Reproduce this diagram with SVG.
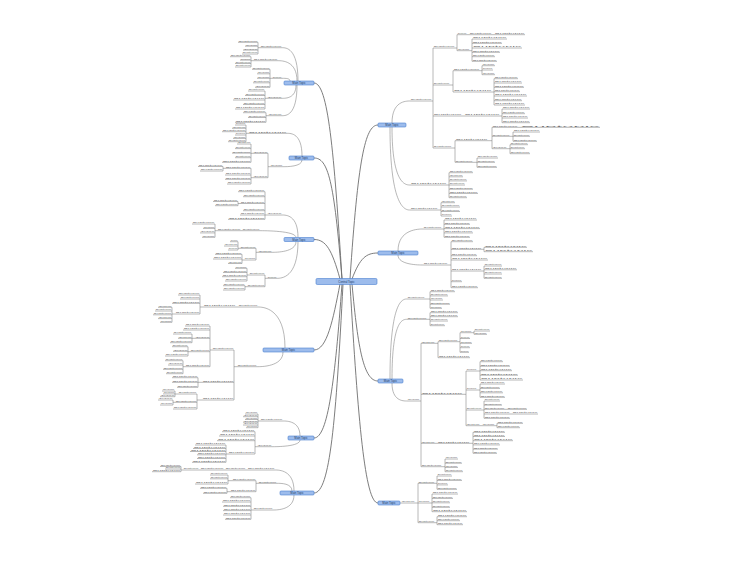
<svg xmlns="http://www.w3.org/2000/svg" width="750" height="563" viewBox="0 0 750 563">
<style>
.bg{fill:#fff}
.main{fill:none;stroke:#6e6e6e;stroke-width:.9}
.cn{fill:none;stroke:#7c7c7c;stroke-width:.55}
.nodes path{fill:none;stroke:#7c7c7c;stroke-width:.55}
.nodes text{font-family:"Liberation Sans",Arial,sans-serif;font-size:2.2px;fill:#707070}
.box rect{fill:#9dbcec;stroke:#4a7fd0;stroke-width:.6}
.box text{font-family:"Liberation Sans",Arial,sans-serif;font-size:2.8px;fill:#1b3a66;text-anchor:middle}
</style>
<rect class="bg" width="750" height="563"/>
<g id="connectors">
<path class="main" d="M350 279C358 160 365 125 378 125M352 279C360 258 366 253 378 253M352 284C358 350 364 381 378 381M350 284C358 420 365 503 378 503M342 279C334 150 328 83 314 83M342 279C334 180 328 158 314 158M340 279C332 250 326 239.5 314 239.5M340 284C333 320 327 350 314 350M342 284C335 380 328 438 314 438M343 284C336 420 330 493 314 493"/>
<path class="cn" d="M392 123C392 101 406 101 410 101M392 127C392 185 406 185 410 185M390 127C390 210 406 210 410 210M398 251C398 229 419 229 423 229M398 255C398 265 419 265 423 265M390 379C390 299 403 299 407 299M392 379C392 319.3 403 319.3 407 319.3M392 383C392 401 403 401 407 401M400 503H401"/>
<path class="cn" d="M298 81C298 47.7 286 47.7 282 47.7M297 81C297 60.7 282 60.7 278 60.7M290 81C290 78.3 286 78.3 282 78.3M296 85C296 98.3 286 98.3 282 98.3M297 85C297 115.7 286 115.7 282 115.7M302 156C302 133.3 291 133.3 287 133.3M302 160C302 166.7 287 166.7 283 166.7M298 237.5C298 215 286 215 282 215M296 237.5C296 230.7 264 230.7 260 230.7M296 241.5C296 252.3 276 252.3 272 252.3M298 241.5C298 278.3 281 278.3 277 278.3M285 348C285 307 262 307 258 307M283 352C283 366.7 261 366.7 257 366.7M300 436C300 421 287 421 283 421M300 440C300 446.7 276 446.7 272 446.7M294 491C294 470 279 470 275 470M292 491C292 483.3 281 483.3 277 483.3M294 495C294 510 277 510 273 510"/>
<path class="cn" d="M432 101H433M433 48V148M455 48H457M457 34.7V50.7M470 50.7H472M472 39V61.3M450 85H453M453 70.7V92M480 70.7H482M482 65.7V74.7M492 92H494M494 78.7V105M500 116H502M502 109V122.7M452 148H455M455 140.7V162.3M488 140.7H492M492 127.3V148.7M510 136.3H513M513 132V141.3M507 148.7H510M510 144.7V153.7M473 162.3H477M477 158V167.3M447 185H449M449 172.7V197.7M438 210H441M441 202.7V216M442 229H444M444 220V237.3M448 265H451M451 241.7V287.7M482 249.3H484M484 247.3V251.7M482 271H484M484 266V278.3M425 299H430M430 291.7V308.3M427 319.3H430M430 312.7V325.7M420 401H421M421 343.3V466.7M435 343.3H438M438 341.7V357.7M458 341.7H460M460 332.7V352.3M472 332.7H474M474 331V334.3M463 394.3H466M466 371V425.7M477 371H480M480 361.7V380M477 390H480M480 384V397.3M482 410H484M484 401V418.3M495 425.7H497M497 423.3V427.7M470 443.3H473M473 432.3V453.3M442 466.7H445M445 459V471.7M415 503H418M418 483.3V522.7M435 483.3H437M437 476V489.3M430 503H432M432 494V511.7M435 522.7H437M437 516.7V524.7"/>
<path class="cn" d="M260 47.7H258M258 42.3V54M253 60.7H251M251 56.7V67M272 78.3H270M270 69.3V87.3M267 98.3H265M265 91V109M268 115.7H266M266 112.7V122.3M248 133.3H246M246 125V141.7M270 166.7H268M268 153.3V177.7M253 153.3H251M251 144V162.3M253 177.7H251M251 168.3V184M225 168.3H223M223 166.5V171M267 215H265M265 191.7V219.3M240 203.5H238M238 201.5V205.7M217 230.7H215M215 224V237.3M258 252.3H256M256 248.3V260M240 248.3H238M238 241.7V250M244 260H242M242 254.3V263.5M267 278.3H265M265 275V286.7M249 275H247M247 268.3V281M247 286.7H245M245 285.7V290M203 307H200M200 295V314M175 314H172M172 307.3V322.3M237 366.7H234M234 350V400M212 350H210M210 326V366.7M195 338.3H192M192 334V342.7M190 351.7H188M188 346.7V356M185 366.7H183M183 360.7V373.7M202 382.3H198M198 377.7V387.3M202 400H197M197 394V409M178 394H175M175 391V396.7M175 402.3H173M173 400V405M260 421H258M258 414V427.7M257 446.7H255M255 431.7V454M228 454H226M226 445V462.3M183 470H181M181 466.5V471.7M258 483.3H256M256 480.7V491.7M232 480.7H228M228 475V484M230 491.7H227M227 488.3V493.3M253 510H251M251 497.7V519.3"/>
</g>
<g id="topics">
<g id="root" class="box"><rect x="316" y="278.5" width="61" height="6" rx="1.2"/><text x="346.5" y="282.6">Central Topic</text></g>
<g id="R1" class="box"><rect x="378" y="123" width="28" height="4" rx="1"/><text x="392" y="126">Main Topic</text></g>
<g id="R2" class="box"><rect x="378" y="251" width="40" height="4" rx="1"/><text x="398" y="254">Main Topic</text></g>
<g id="R3" class="box"><rect x="378" y="379" width="25" height="4" rx="1"/><text x="390.5" y="382">Main Topic</text></g>
<g id="R4" class="box"><rect x="378" y="501" width="22" height="4" rx="1"/><text x="389" y="504">Main Topic</text></g>
<g id="L1" class="box"><rect x="284" y="81" width="30" height="4" rx="1"/><text x="299" y="84">Main Topic</text></g>
<g id="L2" class="box"><rect x="289" y="156" width="25" height="4" rx="1"/><text x="301.5" y="159">Main Topic</text></g>
<g id="L3" class="box"><rect x="284" y="237.5" width="30" height="4" rx="1"/><text x="299" y="240.5">Main Topic</text></g>
<g id="L4" class="box"><rect x="263" y="348" width="51" height="4" rx="1"/><text x="288.5" y="351">Main Topic</text></g>
<g id="L5" class="box"><rect x="288" y="436" width="26" height="4" rx="1"/><text x="301" y="439">Main Topic</text></g>
<g id="L6" class="box"><rect x="280" y="491" width="34" height="4" rx="1"/><text x="297" y="494">Main Topic</text></g>
</g>
<g id="nodes" class="nodes">
<g id="rA"><path d="M410 101H432"/><text x="410.6" y="100.4" lengthAdjust="spacingAndGlyphs" textLength="20.8">Subtopic</text></g>
<g id="rA1"><path d="M433 48H455"/><text x="433.6" y="47.4" lengthAdjust="spacingAndGlyphs" textLength="20.8">Subtopic</text></g>
<g id="rA1a"><path d="M457 34.7H467"/><text x="457.6" y="34.1" lengthAdjust="spacingAndGlyphs" textLength="8.8">Topic</text></g>
<g id="rA1a1"><path d="M467 34.7H492"/><text x="469.6" y="34.1" lengthAdjust="spacingAndGlyphs" textLength="21.8">Subtopic</text></g>
<g id="rA1a2"><path d="M492 34.7H525"/><text x="494.6" y="34.1" lengthAdjust="spacingAndGlyphs" textLength="29.8">Subtopic</text></g>
<g id="rA1b"><path d="M457 50.7H470"/><text x="457.6" y="50.1" lengthAdjust="spacingAndGlyphs" textLength="11.8">Topic</text></g>
<g id="rA1b1"><path d="M472 39H507"/><text x="472.6" y="38.4" lengthAdjust="spacingAndGlyphs" textLength="33.8">Subtopic</text></g>
<g id="rA1b2"><path d="M472 43.3H502"/><text x="472.6" y="42.7" lengthAdjust="spacingAndGlyphs" textLength="28.8">Subtopic</text></g>
<g id="rA1b3"><path d="M472 48H522"/><text x="472.6" y="47.4" lengthAdjust="spacingAndGlyphs" textLength="48.8">Subtopic</text></g>
<g id="rA1b4"><path d="M472 52.3H500"/><text x="472.6" y="51.7" lengthAdjust="spacingAndGlyphs" textLength="26.8">Subtopic</text></g>
<g id="rA1b5"><path d="M472 56.7H495"/><text x="472.6" y="56.1" lengthAdjust="spacingAndGlyphs" textLength="21.8">Subtopic</text></g>
<g id="rA1b6"><path d="M472 61.3H497"/><text x="472.6" y="60.7" lengthAdjust="spacingAndGlyphs" textLength="23.8">Subtopic</text></g>
<g id="rA2"><path d="M433 85H450"/><text x="433.6" y="84.4" lengthAdjust="spacingAndGlyphs" textLength="15.8">Subtopic</text></g>
<g id="rA2a"><path d="M453 70.7H480"/><text x="453.6" y="70.1" lengthAdjust="spacingAndGlyphs" textLength="25.8">Subtopic</text></g>
<g id="rA2a1"><path d="M482 65.7H495"/><text x="482.6" y="65.1" lengthAdjust="spacingAndGlyphs" textLength="11.8">Topic</text></g>
<g id="rA2a2"><path d="M482 70H493"/><text x="482.6" y="69.4" lengthAdjust="spacingAndGlyphs" textLength="9.8">Topic</text></g>
<g id="rA2a3"><path d="M482 74.7H495"/><text x="482.6" y="74.1" lengthAdjust="spacingAndGlyphs" textLength="11.8">Topic</text></g>
<g id="rA2b"><path d="M453 92H492"/><text x="453.6" y="91.4" lengthAdjust="spacingAndGlyphs" textLength="37.8">Subtopic</text></g>
<g id="rA2b1"><path d="M494 78.7H518"/><text x="494.6" y="78.1" lengthAdjust="spacingAndGlyphs" textLength="22.8">Subtopic</text></g>
<g id="rA2b2"><path d="M494 83H522"/><text x="494.6" y="82.4" lengthAdjust="spacingAndGlyphs" textLength="26.8">Subtopic</text></g>
<g id="rA2b3"><path d="M494 87.3H524"/><text x="494.6" y="86.7" lengthAdjust="spacingAndGlyphs" textLength="28.8">Subtopic</text></g>
<g id="rA2b4"><path d="M494 91.7H520"/><text x="494.6" y="91.1" lengthAdjust="spacingAndGlyphs" textLength="24.8">Subtopic</text></g>
<g id="rA2b5"><path d="M494 96H527"/><text x="494.6" y="95.4" lengthAdjust="spacingAndGlyphs" textLength="31.8">Subtopic</text></g>
<g id="rA2b6"><path d="M494 100.7H522"/><text x="494.6" y="100.1" lengthAdjust="spacingAndGlyphs" textLength="26.8">Subtopic</text></g>
<g id="rA2b7"><path d="M494 105H525"/><text x="494.6" y="104.4" lengthAdjust="spacingAndGlyphs" textLength="29.8">Subtopic</text></g>
<g id="rA3"><path d="M433 116H462"/><text x="433.6" y="115.4" lengthAdjust="spacingAndGlyphs" textLength="27.8">Subtopic</text></g>
<g id="rA3a"><path d="M462 116H500"/><text x="464.6" y="115.4" lengthAdjust="spacingAndGlyphs" textLength="34.8">Subtopic</text></g>
<g id="rA3a1"><path d="M502 109H530"/><text x="502.6" y="108.4" lengthAdjust="spacingAndGlyphs" textLength="26.8">Subtopic</text></g>
<g id="rA3a2"><path d="M502 113.7H525"/><text x="502.6" y="113.1" lengthAdjust="spacingAndGlyphs" textLength="21.8">Subtopic</text></g>
<g id="rA3a3"><path d="M502 118H528"/><text x="502.6" y="117.4" lengthAdjust="spacingAndGlyphs" textLength="24.8">Subtopic</text></g>
<g id="rA3a4"><path d="M502 122.7H530"/><text x="502.6" y="122.1" lengthAdjust="spacingAndGlyphs" textLength="26.8">Subtopic</text></g>
<g id="rA4"><path d="M433 148H452"/><text x="433.6" y="147.4" lengthAdjust="spacingAndGlyphs" textLength="17.8">Subtopic</text></g>
<g id="rA4a"><path d="M455 140.7H488"/><text x="455.6" y="140.1" lengthAdjust="spacingAndGlyphs" textLength="31.8">Subtopic</text></g>
<g id="rA4a1"><path d="M492 127.3H518"/><text x="492.6" y="126.7" lengthAdjust="spacingAndGlyphs" textLength="24.8">Subtopic</text></g>
<g id="rA4a1a"><path d="M518 127.3H600"/><text x="520.6" y="126.7" lengthAdjust="spacingAndGlyphs" textLength="78.8">Subtopic</text></g>
<g id="rA4a2"><path d="M492 136.3H510"/><text x="492.6" y="135.7" lengthAdjust="spacingAndGlyphs" textLength="16.8">Subtopic</text></g>
<g id="rA4a2a"><path d="M513 132H540"/><text x="513.6" y="131.4" lengthAdjust="spacingAndGlyphs" textLength="25.8">Subtopic</text></g>
<g id="rA4a2b"><path d="M513 136.3H530"/><text x="513.6" y="135.7" lengthAdjust="spacingAndGlyphs" textLength="15.8">Subtopic</text></g>
<g id="rA4a2c"><path d="M513 141.3H537"/><text x="513.6" y="140.7" lengthAdjust="spacingAndGlyphs" textLength="22.8">Subtopic</text></g>
<g id="rA4a3"><path d="M492 148.7H507"/><text x="492.6" y="148.1" lengthAdjust="spacingAndGlyphs" textLength="13.8">Topic</text></g>
<g id="rA4a3a"><path d="M510 144.7H528"/><text x="510.6" y="144.1" lengthAdjust="spacingAndGlyphs" textLength="16.8">Subtopic</text></g>
<g id="rA4a3b"><path d="M510 148.7H525"/><text x="510.6" y="148.1" lengthAdjust="spacingAndGlyphs" textLength="13.8">Subtopic</text></g>
<g id="rA4a3c"><path d="M510 153.7H530"/><text x="510.6" y="153.1" lengthAdjust="spacingAndGlyphs" textLength="18.8">Subtopic</text></g>
<g id="rA4b"><path d="M455 162.3H473"/><text x="455.6" y="161.7" lengthAdjust="spacingAndGlyphs" textLength="16.8">Subtopic</text></g>
<g id="rA4b1"><path d="M477 158H498"/><text x="477.6" y="157.4" lengthAdjust="spacingAndGlyphs" textLength="19.8">Subtopic</text></g>
<g id="rA4b2"><path d="M477 162.3H495"/><text x="477.6" y="161.7" lengthAdjust="spacingAndGlyphs" textLength="16.8">Subtopic</text></g>
<g id="rA4b3"><path d="M477 167.3H497"/><text x="477.6" y="166.7" lengthAdjust="spacingAndGlyphs" textLength="18.8">Subtopic</text></g>
<g id="rB"><path d="M410 185H447"/><text x="410.6" y="184.4" lengthAdjust="spacingAndGlyphs" textLength="35.8">Subtopic</text></g>
<g id="rB1"><path d="M449 172.7H473"/><text x="449.6" y="172.1" lengthAdjust="spacingAndGlyphs" textLength="22.8">Subtopic</text></g>
<g id="rB2"><path d="M449 176.8H463"/><text x="449.6" y="176.2" lengthAdjust="spacingAndGlyphs" textLength="12.8">Topic</text></g>
<g id="rB3"><path d="M449 180.9H467"/><text x="449.6" y="180.3" lengthAdjust="spacingAndGlyphs" textLength="16.8">Subtopic</text></g>
<g id="rB4"><path d="M449 185H465"/><text x="449.6" y="184.4" lengthAdjust="spacingAndGlyphs" textLength="14.8">Subtopic</text></g>
<g id="rB5"><path d="M449 189.2H473"/><text x="449.6" y="188.6" lengthAdjust="spacingAndGlyphs" textLength="22.8">Subtopic</text></g>
<g id="rB6"><path d="M449 193.4H478"/><text x="449.6" y="192.8" lengthAdjust="spacingAndGlyphs" textLength="27.8">Subtopic</text></g>
<g id="rB7"><path d="M449 197.7H467"/><text x="449.6" y="197.1" lengthAdjust="spacingAndGlyphs" textLength="16.8">Subtopic</text></g>
<g id="rC"><path d="M410 210H438"/><text x="410.6" y="209.4" lengthAdjust="spacingAndGlyphs" textLength="26.8">Subtopic</text></g>
<g id="rC1"><path d="M441 202.7H455"/><text x="441.6" y="202.1" lengthAdjust="spacingAndGlyphs" textLength="12.8">Topic</text></g>
<g id="rC2"><path d="M441 207H460"/><text x="441.6" y="206.4" lengthAdjust="spacingAndGlyphs" textLength="17.8">Subtopic</text></g>
<g id="rC3"><path d="M441 211.5H460"/><text x="441.6" y="210.9" lengthAdjust="spacingAndGlyphs" textLength="17.8">Subtopic</text></g>
<g id="rC4"><path d="M441 216H452"/><text x="441.6" y="215.4" lengthAdjust="spacingAndGlyphs" textLength="9.8">Topic</text></g>
<g id="rD"><path d="M423 229H442"/><text x="423.6" y="228.4" lengthAdjust="spacingAndGlyphs" textLength="17.8">Subtopic</text></g>
<g id="rD1"><path d="M444 220H477"/><text x="444.6" y="219.4" lengthAdjust="spacingAndGlyphs" textLength="31.8">Subtopic</text></g>
<g id="rD2"><path d="M444 224.3H470"/><text x="444.6" y="223.7" lengthAdjust="spacingAndGlyphs" textLength="24.8">Subtopic</text></g>
<g id="rD3"><path d="M444 228.6H480"/><text x="444.6" y="228" lengthAdjust="spacingAndGlyphs" textLength="34.8">Subtopic</text></g>
<g id="rD4"><path d="M444 232.9H473"/><text x="444.6" y="232.3" lengthAdjust="spacingAndGlyphs" textLength="27.8">Subtopic</text></g>
<g id="rD5"><path d="M444 237.3H470"/><text x="444.6" y="236.7" lengthAdjust="spacingAndGlyphs" textLength="24.8">Subtopic</text></g>
<g id="rE"><path d="M423 265H448"/><text x="423.6" y="264.4" lengthAdjust="spacingAndGlyphs" textLength="23.8">Subtopic</text></g>
<g id="rE1"><path d="M451 241.7H473"/><text x="451.6" y="241.1" lengthAdjust="spacingAndGlyphs" textLength="20.8">Subtopic</text></g>
<g id="rE2"><path d="M451 249.3H482"/><text x="451.6" y="248.7" lengthAdjust="spacingAndGlyphs" textLength="29.8">Subtopic</text></g>
<g id="rE2a"><path d="M484 247.3H527"/><text x="484.6" y="246.7" lengthAdjust="spacingAndGlyphs" textLength="41.8">Subtopic</text></g>
<g id="rE2b"><path d="M484 251.7H533"/><text x="484.6" y="251.1" lengthAdjust="spacingAndGlyphs" textLength="47.8">Subtopic</text></g>
<g id="rE3"><path d="M451 255.7H477"/><text x="451.6" y="255.1" lengthAdjust="spacingAndGlyphs" textLength="24.8">Subtopic</text></g>
<g id="rE4"><path d="M451 260H488"/><text x="451.6" y="259.4" lengthAdjust="spacingAndGlyphs" textLength="35.8">Subtopic</text></g>
<g id="rE5"><path d="M451 271H482"/><text x="451.6" y="270.4" lengthAdjust="spacingAndGlyphs" textLength="29.8">Subtopic</text></g>
<g id="rE5a"><path d="M484 266H502"/><text x="484.6" y="265.4" lengthAdjust="spacingAndGlyphs" textLength="16.8">Subtopic</text></g>
<g id="rE5b"><path d="M484 269.8H517"/><text x="484.6" y="269.2" lengthAdjust="spacingAndGlyphs" textLength="31.8">Subtopic</text></g>
<g id="rE5c"><path d="M484 274H502"/><text x="484.6" y="273.4" lengthAdjust="spacingAndGlyphs" textLength="16.8">Subtopic</text></g>
<g id="rE5d"><path d="M484 278.3H502"/><text x="484.6" y="277.7" lengthAdjust="spacingAndGlyphs" textLength="16.8">Subtopic</text></g>
<g id="rE6"><path d="M451 281.7H462"/><text x="451.6" y="281.1" lengthAdjust="spacingAndGlyphs" textLength="9.8">Topic</text></g>
<g id="rE7"><path d="M451 287.7H478"/><text x="451.6" y="287.1" lengthAdjust="spacingAndGlyphs" textLength="25.8">Subtopic</text></g>
<g id="rF"><path d="M407 299H425"/><text x="407.6" y="298.4" lengthAdjust="spacingAndGlyphs" textLength="16.8">Subtopic</text></g>
<g id="rF1"><path d="M430 291.7H455"/><text x="430.6" y="291.1" lengthAdjust="spacingAndGlyphs" textLength="23.8">Subtopic</text></g>
<g id="rF2"><path d="M430 295.9H448"/><text x="430.6" y="295.3" lengthAdjust="spacingAndGlyphs" textLength="16.8">Subtopic</text></g>
<g id="rF3"><path d="M430 300H443"/><text x="430.6" y="299.4" lengthAdjust="spacingAndGlyphs" textLength="11.8">Topic</text></g>
<g id="rF4"><path d="M430 304.2H450"/><text x="430.6" y="303.6" lengthAdjust="spacingAndGlyphs" textLength="18.8">Subtopic</text></g>
<g id="rF5"><path d="M430 308.3H442"/><text x="430.6" y="307.7" lengthAdjust="spacingAndGlyphs" textLength="10.8">Topic</text></g>
<g id="rG"><path d="M407 319.3H427"/><text x="407.6" y="318.7" lengthAdjust="spacingAndGlyphs" textLength="18.8">Subtopic</text></g>
<g id="rG1"><path d="M430 312.7H458"/><text x="430.6" y="312.1" lengthAdjust="spacingAndGlyphs" textLength="26.8">Subtopic</text></g>
<g id="rG2"><path d="M430 316.7H458"/><text x="430.6" y="316.1" lengthAdjust="spacingAndGlyphs" textLength="26.8">Subtopic</text></g>
<g id="rG3"><path d="M430 321H448"/><text x="430.6" y="320.4" lengthAdjust="spacingAndGlyphs" textLength="16.8">Subtopic</text></g>
<g id="rG4"><path d="M430 325.7H445"/><text x="430.6" y="325.1" lengthAdjust="spacingAndGlyphs" textLength="13.8">Subtopic</text></g>
<g id="rH"><path d="M407 401H420"/><text x="407.6" y="400.4" lengthAdjust="spacingAndGlyphs" textLength="11.8">Topic</text></g>
<g id="rH1"><path d="M421 343.3H435"/><text x="421.6" y="342.7" lengthAdjust="spacingAndGlyphs" textLength="12.8">Topic</text></g>
<g id="rH1a"><path d="M438 341.7H458"/><text x="438.6" y="341.1" lengthAdjust="spacingAndGlyphs" textLength="18.8">Subtopic</text></g>
<g id="rH1a1"><path d="M460 332.7H472"/><text x="460.6" y="332.1" lengthAdjust="spacingAndGlyphs" textLength="10.8">Topic</text></g>
<g id="rH1a1a"><path d="M474 331H490"/><text x="474.6" y="330.4" lengthAdjust="spacingAndGlyphs" textLength="14.8">Subtopic</text></g>
<g id="rH1a1b"><path d="M474 334.3H487"/><text x="474.6" y="333.7" lengthAdjust="spacingAndGlyphs" textLength="11.8">Topic</text></g>
<g id="rH1a2"><path d="M460 338.5H470"/><text x="460.6" y="337.9" lengthAdjust="spacingAndGlyphs" textLength="8.8">Topic</text></g>
<g id="rH1a3"><path d="M460 343.3H472"/><text x="460.6" y="342.7" lengthAdjust="spacingAndGlyphs" textLength="10.8">Topic</text></g>
<g id="rH1a4"><path d="M460 347.7H470"/><text x="460.6" y="347.1" lengthAdjust="spacingAndGlyphs" textLength="8.8">Topic</text></g>
<g id="rH1a5"><path d="M460 352.3H469"/><text x="460.6" y="351.7" lengthAdjust="spacingAndGlyphs" textLength="7.8">Topic</text></g>
<g id="rH1b"><path d="M438 357.7H470"/><text x="438.6" y="357.1" lengthAdjust="spacingAndGlyphs" textLength="30.8">Subtopic</text></g>
<g id="rH2"><path d="M421 394.3H463"/><text x="421.6" y="393.7" lengthAdjust="spacingAndGlyphs" textLength="40.8">Subtopic</text></g>
<g id="rH2a"><path d="M466 371H477"/><text x="466.6" y="370.4" lengthAdjust="spacingAndGlyphs" textLength="9.8">Topic</text></g>
<g id="rH2a1"><path d="M480 361.7H503"/><text x="480.6" y="361.1" lengthAdjust="spacingAndGlyphs" textLength="21.8">Subtopic</text></g>
<g id="rH2a2"><path d="M480 366.2H510"/><text x="480.6" y="365.6" lengthAdjust="spacingAndGlyphs" textLength="28.8">Subtopic</text></g>
<g id="rH2a3"><path d="M480 370.7H512"/><text x="480.6" y="370.1" lengthAdjust="spacingAndGlyphs" textLength="30.8">Subtopic</text></g>
<g id="rH2a4"><path d="M480 375.2H518"/><text x="480.6" y="374.6" lengthAdjust="spacingAndGlyphs" textLength="36.8">Subtopic</text></g>
<g id="rH2a5"><path d="M480 380H523"/><text x="480.6" y="379.4" lengthAdjust="spacingAndGlyphs" textLength="41.8">Subtopic</text></g>
<g id="rH2b"><path d="M466 390H477"/><text x="466.6" y="389.4" lengthAdjust="spacingAndGlyphs" textLength="9.8">Topic</text></g>
<g id="rH2b1"><path d="M480 384H505"/><text x="480.6" y="383.4" lengthAdjust="spacingAndGlyphs" textLength="23.8">Subtopic</text></g>
<g id="rH2b2"><path d="M480 388.4H500"/><text x="480.6" y="387.8" lengthAdjust="spacingAndGlyphs" textLength="18.8">Subtopic</text></g>
<g id="rH2b3"><path d="M480 392.8H503"/><text x="480.6" y="392.2" lengthAdjust="spacingAndGlyphs" textLength="21.8">Subtopic</text></g>
<g id="rH2b4"><path d="M480 397.3H505"/><text x="480.6" y="396.7" lengthAdjust="spacingAndGlyphs" textLength="23.8">Subtopic</text></g>
<g id="rH2c"><path d="M466 410H482"/><text x="466.6" y="409.4" lengthAdjust="spacingAndGlyphs" textLength="14.8">Subtopic</text></g>
<g id="rH2c1"><path d="M484 401H500"/><text x="484.6" y="400.4" lengthAdjust="spacingAndGlyphs" textLength="14.8">Subtopic</text></g>
<g id="rH2c2"><path d="M484 405.1H502"/><text x="484.6" y="404.5" lengthAdjust="spacingAndGlyphs" textLength="16.8">Subtopic</text></g>
<g id="rH2c3"><path d="M484 409.3H505"/><text x="484.6" y="408.7" lengthAdjust="spacingAndGlyphs" textLength="19.8">Subtopic</text></g>
<g id="rH2c3a"><path d="M505 409.3H527"/><text x="507.6" y="408.7" lengthAdjust="spacingAndGlyphs" textLength="18.8">Subtopic</text></g>
<g id="rH2c4"><path d="M484 414H510"/><text x="484.6" y="413.4" lengthAdjust="spacingAndGlyphs" textLength="24.8">Subtopic</text></g>
<g id="rH2c4a"><path d="M510 414H538"/><text x="512.6" y="413.4" lengthAdjust="spacingAndGlyphs" textLength="24.8">Subtopic</text></g>
<g id="rH2c5"><path d="M484 418.3H510"/><text x="484.6" y="417.7" lengthAdjust="spacingAndGlyphs" textLength="24.8">Subtopic</text></g>
<g id="rH2d"><path d="M466 425.7H480"/><text x="466.6" y="425.1" lengthAdjust="spacingAndGlyphs" textLength="12.8">Topic</text></g>
<g id="rH2d1"><path d="M480 425.7H495"/><text x="482.6" y="425.1" lengthAdjust="spacingAndGlyphs" textLength="11.8">Topic</text></g>
<g id="rH2d1a"><path d="M497 423.3H523"/><text x="497.6" y="422.7" lengthAdjust="spacingAndGlyphs" textLength="24.8">Subtopic</text></g>
<g id="rH2d1b"><path d="M497 427.7H520"/><text x="497.6" y="427.1" lengthAdjust="spacingAndGlyphs" textLength="21.8">Subtopic</text></g>
<g id="rH3"><path d="M421 443.3H435"/><text x="421.6" y="442.7" lengthAdjust="spacingAndGlyphs" textLength="12.8">Topic</text></g>
<g id="rH3a"><path d="M435 443.3H470"/><text x="437.6" y="442.7" lengthAdjust="spacingAndGlyphs" textLength="31.8">Subtopic</text></g>
<g id="rH3a1"><path d="M473 432.3H505"/><text x="473.6" y="431.7" lengthAdjust="spacingAndGlyphs" textLength="30.8">Subtopic</text></g>
<g id="rH3a2"><path d="M473 436.5H505"/><text x="473.6" y="435.9" lengthAdjust="spacingAndGlyphs" textLength="30.8">Subtopic</text></g>
<g id="rH3a3"><path d="M473 440.7H513"/><text x="473.6" y="440.1" lengthAdjust="spacingAndGlyphs" textLength="38.8">Subtopic</text></g>
<g id="rH3a4"><path d="M473 444.9H500"/><text x="473.6" y="444.3" lengthAdjust="spacingAndGlyphs" textLength="25.8">Subtopic</text></g>
<g id="rH3a5"><path d="M473 449.1H498"/><text x="473.6" y="448.5" lengthAdjust="spacingAndGlyphs" textLength="23.8">Subtopic</text></g>
<g id="rH3a6"><path d="M473 453.3H497"/><text x="473.6" y="452.7" lengthAdjust="spacingAndGlyphs" textLength="22.8">Subtopic</text></g>
<g id="rH4"><path d="M421 466.7H442"/><text x="421.6" y="466.1" lengthAdjust="spacingAndGlyphs" textLength="19.8">Subtopic</text></g>
<g id="rH4a"><path d="M445 459H458"/><text x="445.6" y="458.4" lengthAdjust="spacingAndGlyphs" textLength="11.8">Topic</text></g>
<g id="rH4b"><path d="M445 463.2H462"/><text x="445.6" y="462.6" lengthAdjust="spacingAndGlyphs" textLength="15.8">Subtopic</text></g>
<g id="rH4c"><path d="M445 467.4H458"/><text x="445.6" y="466.8" lengthAdjust="spacingAndGlyphs" textLength="11.8">Topic</text></g>
<g id="rH4d"><path d="M445 471.7H463"/><text x="445.6" y="471.1" lengthAdjust="spacingAndGlyphs" textLength="16.8">Subtopic</text></g>
<g id="rI"><path d="M401 503H415"/><text x="401.6" y="502.4" lengthAdjust="spacingAndGlyphs" textLength="12.8">Topic</text></g>
<g id="rI1"><path d="M418 483.3H435"/><text x="418.6" y="482.7" lengthAdjust="spacingAndGlyphs" textLength="15.8">Subtopic</text></g>
<g id="rI1a"><path d="M437 476H452"/><text x="437.6" y="475.4" lengthAdjust="spacingAndGlyphs" textLength="13.8">Subtopic</text></g>
<g id="rI1b"><path d="M437 480.4H462"/><text x="437.6" y="479.8" lengthAdjust="spacingAndGlyphs" textLength="23.8">Subtopic</text></g>
<g id="rI1c"><path d="M437 484.9H448"/><text x="437.6" y="484.3" lengthAdjust="spacingAndGlyphs" textLength="9.8">Topic</text></g>
<g id="rI1d"><path d="M437 489.3H457"/><text x="437.6" y="488.7" lengthAdjust="spacingAndGlyphs" textLength="18.8">Subtopic</text></g>
<g id="rI2"><path d="M418 503H430"/><text x="418.6" y="502.4" lengthAdjust="spacingAndGlyphs" textLength="10.8">Topic</text></g>
<g id="rI2a"><path d="M432 494H458"/><text x="432.6" y="493.4" lengthAdjust="spacingAndGlyphs" textLength="24.8">Subtopic</text></g>
<g id="rI2b"><path d="M432 498.4H453"/><text x="432.6" y="497.8" lengthAdjust="spacingAndGlyphs" textLength="19.8">Subtopic</text></g>
<g id="rI2c"><path d="M432 502.8H450"/><text x="432.6" y="502.2" lengthAdjust="spacingAndGlyphs" textLength="16.8">Subtopic</text></g>
<g id="rI2d"><path d="M432 507.3H450"/><text x="432.6" y="506.7" lengthAdjust="spacingAndGlyphs" textLength="16.8">Subtopic</text></g>
<g id="rI2e"><path d="M432 511.7H467"/><text x="432.6" y="511.1" lengthAdjust="spacingAndGlyphs" textLength="33.8">Subtopic</text></g>
<g id="rI3"><path d="M418 522.7H435"/><text x="418.6" y="522.1" lengthAdjust="spacingAndGlyphs" textLength="15.8">Subtopic</text></g>
<g id="rI3a"><path d="M437 516.7H467"/><text x="437.6" y="516.1" lengthAdjust="spacingAndGlyphs" textLength="28.8">Subtopic</text></g>
<g id="rI3b"><path d="M437 520.7H460"/><text x="437.6" y="520.1" lengthAdjust="spacingAndGlyphs" textLength="21.8">Subtopic</text></g>
<g id="rI3c"><path d="M437 524.7H463"/><text x="437.6" y="524.1" lengthAdjust="spacingAndGlyphs" textLength="24.8">Subtopic</text></g>
<g id="lA"><path d="M260 47.7H282"/><text x="260.6" y="47.1" lengthAdjust="spacingAndGlyphs" textLength="20.8">Subtopic</text></g>
<g id="lA1"><path d="M238 42.3H258"/><text x="238.6" y="41.7" lengthAdjust="spacingAndGlyphs" textLength="18.8">Subtopic</text></g>
<g id="lA2"><path d="M245 46.2H258"/><text x="245.6" y="45.6" lengthAdjust="spacingAndGlyphs" textLength="11.8">Topic</text></g>
<g id="lA3"><path d="M243 50.1H258"/><text x="243.6" y="49.5" lengthAdjust="spacingAndGlyphs" textLength="13.8">Topic</text></g>
<g id="lA4"><path d="M242 54H258"/><text x="242.6" y="53.4" lengthAdjust="spacingAndGlyphs" textLength="14.8">Subtopic</text></g>
<g id="lB"><path d="M253 60.7H278"/><text x="253.6" y="60.1" lengthAdjust="spacingAndGlyphs" textLength="23.8">Subtopic</text></g>
<g id="lB1"><path d="M230 56.7H251"/><text x="230.6" y="56.1" lengthAdjust="spacingAndGlyphs" textLength="19.8">Subtopic</text></g>
<g id="lB2"><path d="M240 60.1H251"/><text x="240.6" y="59.5" lengthAdjust="spacingAndGlyphs" textLength="9.8">Topic</text></g>
<g id="lB3"><path d="M235 63.5H251"/><text x="235.6" y="62.9" lengthAdjust="spacingAndGlyphs" textLength="14.8">Subtopic</text></g>
<g id="lB4"><path d="M235 67H251"/><text x="235.6" y="66.4" lengthAdjust="spacingAndGlyphs" textLength="14.8">Subtopic</text></g>
<g id="lC"><path d="M272 78.3H282"/><text x="272.6" y="77.7" lengthAdjust="spacingAndGlyphs" textLength="8.8">Topic</text></g>
<g id="lC1"><path d="M252 69.3H270"/><text x="252.6" y="68.7" lengthAdjust="spacingAndGlyphs" textLength="16.8">Subtopic</text></g>
<g id="lC2"><path d="M257 73.8H270"/><text x="257.6" y="73.2" lengthAdjust="spacingAndGlyphs" textLength="11.8">Topic</text></g>
<g id="lC3"><path d="M257 78.3H270"/><text x="257.6" y="77.7" lengthAdjust="spacingAndGlyphs" textLength="11.8">Topic</text></g>
<g id="lC4"><path d="M253 82.8H270"/><text x="253.6" y="82.2" lengthAdjust="spacingAndGlyphs" textLength="15.8">Subtopic</text></g>
<g id="lC5"><path d="M255 87.3H270"/><text x="255.6" y="86.7" lengthAdjust="spacingAndGlyphs" textLength="13.8">Topic</text></g>
<g id="lD"><path d="M267 98.3H282"/><text x="267.6" y="97.7" lengthAdjust="spacingAndGlyphs" textLength="13.8">Topic</text></g>
<g id="lD1"><path d="M248 91H265"/><text x="248.6" y="90.4" lengthAdjust="spacingAndGlyphs" textLength="15.8">Subtopic</text></g>
<g id="lD2"><path d="M245 95.5H265"/><text x="245.6" y="94.9" lengthAdjust="spacingAndGlyphs" textLength="18.8">Subtopic</text></g>
<g id="lD3"><path d="M233 100H265"/><text x="233.6" y="99.4" lengthAdjust="spacingAndGlyphs" textLength="30.8">Subtopic</text></g>
<g id="lD4"><path d="M243 104.5H265"/><text x="243.6" y="103.9" lengthAdjust="spacingAndGlyphs" textLength="20.8">Subtopic</text></g>
<g id="lD5"><path d="M235 109H265"/><text x="235.6" y="108.4" lengthAdjust="spacingAndGlyphs" textLength="28.8">Subtopic</text></g>
<g id="lE"><path d="M268 115.7H282"/><text x="268.6" y="115.1" lengthAdjust="spacingAndGlyphs" textLength="12.8">Topic</text></g>
<g id="lE1"><path d="M243 112.7H266"/><text x="243.6" y="112.1" lengthAdjust="spacingAndGlyphs" textLength="21.8">Subtopic</text></g>
<g id="lE2"><path d="M248 117.5H266"/><text x="248.6" y="116.9" lengthAdjust="spacingAndGlyphs" textLength="16.8">Subtopic</text></g>
<g id="lE3"><path d="M235 122.3H266"/><text x="235.6" y="121.7" lengthAdjust="spacingAndGlyphs" textLength="29.8">Subtopic</text></g>
<g id="lF"><path d="M248 133.3H287"/><text x="248.6" y="132.7" lengthAdjust="spacingAndGlyphs" textLength="37.8">Subtopic</text></g>
<g id="lF1"><path d="M235 125H246"/><text x="235.6" y="124.4" lengthAdjust="spacingAndGlyphs" textLength="9.8">Topic</text></g>
<g id="lF2"><path d="M232 128.3H246"/><text x="232.6" y="127.7" lengthAdjust="spacingAndGlyphs" textLength="12.8">Topic</text></g>
<g id="lF3"><path d="M222 131.7H246"/><text x="222.6" y="131.1" lengthAdjust="spacingAndGlyphs" textLength="22.8">Subtopic</text></g>
<g id="lF4"><path d="M235 135H246"/><text x="235.6" y="134.4" lengthAdjust="spacingAndGlyphs" textLength="9.8">Topic</text></g>
<g id="lF5"><path d="M233 138.4H246"/><text x="233.6" y="137.8" lengthAdjust="spacingAndGlyphs" textLength="11.8">Topic</text></g>
<g id="lF6"><path d="M228 141.7H246"/><text x="228.6" y="141.1" lengthAdjust="spacingAndGlyphs" textLength="16.8">Subtopic</text></g>
<g id="lG"><path d="M270 166.7H283"/><text x="270.6" y="166.1" lengthAdjust="spacingAndGlyphs" textLength="11.8">Topic</text></g>
<g id="lG1"><path d="M253 153.3H268"/><text x="253.6" y="152.7" lengthAdjust="spacingAndGlyphs" textLength="13.8">Topic</text></g>
<g id="lG1a"><path d="M237 144H251"/><text x="237.6" y="143.4" lengthAdjust="spacingAndGlyphs" textLength="12.8">Topic</text></g>
<g id="lG1b"><path d="M235 148.6H251"/><text x="235.6" y="148" lengthAdjust="spacingAndGlyphs" textLength="14.8">Subtopic</text></g>
<g id="lG1c"><path d="M232 153.1H251"/><text x="232.6" y="152.5" lengthAdjust="spacingAndGlyphs" textLength="17.8">Subtopic</text></g>
<g id="lG1d"><path d="M235 157.7H251"/><text x="235.6" y="157.1" lengthAdjust="spacingAndGlyphs" textLength="14.8">Subtopic</text></g>
<g id="lG1e"><path d="M222 162.3H251"/><text x="222.6" y="161.7" lengthAdjust="spacingAndGlyphs" textLength="27.8">Subtopic</text></g>
<g id="lG2"><path d="M253 177.7H268"/><text x="253.6" y="177.1" lengthAdjust="spacingAndGlyphs" textLength="13.8">Topic</text></g>
<g id="lG2a"><path d="M225 168.3H251"/><text x="225.6" y="167.7" lengthAdjust="spacingAndGlyphs" textLength="24.8">Subtopic</text></g>
<g id="lG2a1"><path d="M198 166.5H223"/><text x="198.6" y="165.9" lengthAdjust="spacingAndGlyphs" textLength="23.8">Subtopic</text></g>
<g id="lG2a2"><path d="M200 171H223"/><text x="200.6" y="170.4" lengthAdjust="spacingAndGlyphs" textLength="21.8">Subtopic</text></g>
<g id="lG2b"><path d="M225 175H251"/><text x="225.6" y="174.4" lengthAdjust="spacingAndGlyphs" textLength="24.8">Subtopic</text></g>
<g id="lG2c"><path d="M225 179.3H251"/><text x="225.6" y="178.7" lengthAdjust="spacingAndGlyphs" textLength="24.8">Subtopic</text></g>
<g id="lG2d"><path d="M227 184H251"/><text x="227.6" y="183.4" lengthAdjust="spacingAndGlyphs" textLength="22.8">Subtopic</text></g>
<g id="lH"><path d="M267 215H282"/><text x="267.6" y="214.4" lengthAdjust="spacingAndGlyphs" textLength="13.8">Topic</text></g>
<g id="lH1"><path d="M238 191.7H265"/><text x="238.6" y="191.1" lengthAdjust="spacingAndGlyphs" textLength="25.8">Subtopic</text></g>
<g id="lH2"><path d="M243 196.7H265"/><text x="243.6" y="196.1" lengthAdjust="spacingAndGlyphs" textLength="20.8">Subtopic</text></g>
<g id="lH3"><path d="M240 203.5H265"/><text x="240.6" y="202.9" lengthAdjust="spacingAndGlyphs" textLength="23.8">Subtopic</text></g>
<g id="lH3a"><path d="M213 201.5H238"/><text x="213.6" y="200.9" lengthAdjust="spacingAndGlyphs" textLength="23.8">Subtopic</text></g>
<g id="lH3b"><path d="M215 205.7H238"/><text x="215.6" y="205.1" lengthAdjust="spacingAndGlyphs" textLength="21.8">Subtopic</text></g>
<g id="lH4"><path d="M243 210.7H265"/><text x="243.6" y="210.1" lengthAdjust="spacingAndGlyphs" textLength="20.8">Subtopic</text></g>
<g id="lH5"><path d="M240 215H265"/><text x="240.6" y="214.4" lengthAdjust="spacingAndGlyphs" textLength="23.8">Subtopic</text></g>
<g id="lH6"><path d="M228 219.3H265"/><text x="228.6" y="218.7" lengthAdjust="spacingAndGlyphs" textLength="35.8">Subtopic</text></g>
<g id="lI"><path d="M242 230.7H260"/><text x="242.6" y="230.1" lengthAdjust="spacingAndGlyphs" textLength="16.8">Subtopic</text></g>
<g id="lI1"><path d="M217 230.7H242"/><text x="217.6" y="230.1" lengthAdjust="spacingAndGlyphs" textLength="22.8">Subtopic</text></g>
<g id="lI1a"><path d="M192 224H215"/><text x="192.6" y="223.4" lengthAdjust="spacingAndGlyphs" textLength="21.8">Subtopic</text></g>
<g id="lI1b"><path d="M203 228.4H215"/><text x="203.6" y="227.8" lengthAdjust="spacingAndGlyphs" textLength="10.8">Topic</text></g>
<g id="lI1c"><path d="M200 232.9H215"/><text x="200.6" y="232.3" lengthAdjust="spacingAndGlyphs" textLength="13.8">Topic</text></g>
<g id="lI1d"><path d="M202 237.3H215"/><text x="202.6" y="236.7" lengthAdjust="spacingAndGlyphs" textLength="11.8">Topic</text></g>
<g id="lJ"><path d="M258 252.3H272"/><text x="258.6" y="251.7" lengthAdjust="spacingAndGlyphs" textLength="12.8">Topic</text></g>
<g id="lJ1"><path d="M240 248.3H256"/><text x="240.6" y="247.7" lengthAdjust="spacingAndGlyphs" textLength="14.8">Subtopic</text></g>
<g id="lJ1a"><path d="M230 241.7H238"/><text x="230.6" y="241.1" lengthAdjust="spacingAndGlyphs" textLength="6.8">Topic</text></g>
<g id="lJ1b"><path d="M224 246H238"/><text x="224.6" y="245.4" lengthAdjust="spacingAndGlyphs" textLength="12.8">Topic</text></g>
<g id="lJ1c"><path d="M228 250H238"/><text x="228.6" y="249.4" lengthAdjust="spacingAndGlyphs" textLength="8.8">Topic</text></g>
<g id="lJ2"><path d="M244 260H256"/><text x="244.6" y="259.4" lengthAdjust="spacingAndGlyphs" textLength="10.8">Topic</text></g>
<g id="lJ2a"><path d="M215 254.3H242"/><text x="215.6" y="253.7" lengthAdjust="spacingAndGlyphs" textLength="25.8">Subtopic</text></g>
<g id="lJ2b"><path d="M213 259H242"/><text x="213.6" y="258.4" lengthAdjust="spacingAndGlyphs" textLength="27.8">Subtopic</text></g>
<g id="lJ2c"><path d="M228 263.5H242"/><text x="228.6" y="262.9" lengthAdjust="spacingAndGlyphs" textLength="12.8">Topic</text></g>
<g id="lK"><path d="M267 278.3H277"/><text x="267.6" y="277.7" lengthAdjust="spacingAndGlyphs" textLength="8.8">Topic</text></g>
<g id="lK1"><path d="M249 275H265"/><text x="249.6" y="274.4" lengthAdjust="spacingAndGlyphs" textLength="14.8">Subtopic</text></g>
<g id="lK1a"><path d="M235 268.3H247"/><text x="235.6" y="267.7" lengthAdjust="spacingAndGlyphs" textLength="10.8">Topic</text></g>
<g id="lK1b"><path d="M223 272.5H247"/><text x="223.6" y="271.9" lengthAdjust="spacingAndGlyphs" textLength="22.8">Subtopic</text></g>
<g id="lK1c"><path d="M222 276.7H247"/><text x="222.6" y="276.1" lengthAdjust="spacingAndGlyphs" textLength="23.8">Subtopic</text></g>
<g id="lK1d"><path d="M225 281H247"/><text x="225.6" y="280.4" lengthAdjust="spacingAndGlyphs" textLength="20.8">Subtopic</text></g>
<g id="lK2"><path d="M247 286.7H265"/><text x="247.6" y="286.1" lengthAdjust="spacingAndGlyphs" textLength="16.8">Subtopic</text></g>
<g id="lK2a"><path d="M223 285.7H245"/><text x="223.6" y="285.1" lengthAdjust="spacingAndGlyphs" textLength="20.8">Subtopic</text></g>
<g id="lK2b"><path d="M223 290H245"/><text x="223.6" y="289.4" lengthAdjust="spacingAndGlyphs" textLength="20.8">Subtopic</text></g>
<g id="lM"><path d="M238 307H258"/><text x="238.6" y="306.4" lengthAdjust="spacingAndGlyphs" textLength="18.8">Subtopic</text></g>
<g id="lM1"><path d="M203 307H238"/><text x="203.6" y="306.4" lengthAdjust="spacingAndGlyphs" textLength="31.8">Subtopic</text></g>
<g id="lM1a"><path d="M178 295H200"/><text x="178.6" y="294.4" lengthAdjust="spacingAndGlyphs" textLength="20.8">Subtopic</text></g>
<g id="lM1b"><path d="M180 299H200"/><text x="180.6" y="298.4" lengthAdjust="spacingAndGlyphs" textLength="18.8">Subtopic</text></g>
<g id="lM1c"><path d="M172 303.3H200"/><text x="172.6" y="302.7" lengthAdjust="spacingAndGlyphs" textLength="26.8">Subtopic</text></g>
<g id="lM1d"><path d="M175 314H200"/><text x="175.6" y="313.4" lengthAdjust="spacingAndGlyphs" textLength="23.8">Subtopic</text></g>
<g id="lM1d1"><path d="M158 307.3H172"/><text x="158.6" y="306.7" lengthAdjust="spacingAndGlyphs" textLength="12.8">Topic</text></g>
<g id="lM1d2"><path d="M155 311H172"/><text x="155.6" y="310.4" lengthAdjust="spacingAndGlyphs" textLength="15.8">Subtopic</text></g>
<g id="lM1d3"><path d="M153 314.8H172"/><text x="153.6" y="314.2" lengthAdjust="spacingAndGlyphs" textLength="17.8">Subtopic</text></g>
<g id="lM1d4"><path d="M158 318.6H172"/><text x="158.6" y="318" lengthAdjust="spacingAndGlyphs" textLength="12.8">Topic</text></g>
<g id="lM1d5"><path d="M160 322.3H172"/><text x="160.6" y="321.7" lengthAdjust="spacingAndGlyphs" textLength="10.8">Topic</text></g>
<g id="lN"><path d="M237 366.7H257"/><text x="237.6" y="366.1" lengthAdjust="spacingAndGlyphs" textLength="18.8">Subtopic</text></g>
<g id="lN1"><path d="M212 350H234"/><text x="212.6" y="349.4" lengthAdjust="spacingAndGlyphs" textLength="20.8">Subtopic</text></g>
<g id="lN1a"><path d="M185 326H210"/><text x="185.6" y="325.4" lengthAdjust="spacingAndGlyphs" textLength="23.8">Subtopic</text></g>
<g id="lN1b"><path d="M183 330H210"/><text x="183.6" y="329.4" lengthAdjust="spacingAndGlyphs" textLength="25.8">Subtopic</text></g>
<g id="lN1c"><path d="M195 338.3H210"/><text x="195.6" y="337.7" lengthAdjust="spacingAndGlyphs" textLength="13.8">Topic</text></g>
<g id="lN1c1"><path d="M173 334H192"/><text x="173.6" y="333.4" lengthAdjust="spacingAndGlyphs" textLength="17.8">Subtopic</text></g>
<g id="lN1c2"><path d="M178 338.3H192"/><text x="178.6" y="337.7" lengthAdjust="spacingAndGlyphs" textLength="12.8">Topic</text></g>
<g id="lN1c3"><path d="M170 342.7H192"/><text x="170.6" y="342.1" lengthAdjust="spacingAndGlyphs" textLength="20.8">Subtopic</text></g>
<g id="lN1d"><path d="M190 351.7H210"/><text x="190.6" y="351.1" lengthAdjust="spacingAndGlyphs" textLength="18.8">Subtopic</text></g>
<g id="lN1d1"><path d="M172 346.7H188"/><text x="172.6" y="346.1" lengthAdjust="spacingAndGlyphs" textLength="14.8">Subtopic</text></g>
<g id="lN1d2"><path d="M173 351.3H188"/><text x="173.6" y="350.7" lengthAdjust="spacingAndGlyphs" textLength="13.8">Topic</text></g>
<g id="lN1d3"><path d="M165 356H188"/><text x="165.6" y="355.4" lengthAdjust="spacingAndGlyphs" textLength="21.8">Subtopic</text></g>
<g id="lN1e"><path d="M185 366.7H210"/><text x="185.6" y="366.1" lengthAdjust="spacingAndGlyphs" textLength="23.8">Subtopic</text></g>
<g id="lN1e1"><path d="M165 360.7H183"/><text x="165.6" y="360.1" lengthAdjust="spacingAndGlyphs" textLength="16.8">Subtopic</text></g>
<g id="lN1e2"><path d="M168 365H183"/><text x="168.6" y="364.4" lengthAdjust="spacingAndGlyphs" textLength="13.8">Topic</text></g>
<g id="lN1e3"><path d="M163 369.3H183"/><text x="163.6" y="368.7" lengthAdjust="spacingAndGlyphs" textLength="18.8">Subtopic</text></g>
<g id="lN1e4"><path d="M166 373.7H183"/><text x="166.6" y="373.1" lengthAdjust="spacingAndGlyphs" textLength="15.8">Subtopic</text></g>
<g id="lN2"><path d="M202 382.3H234"/><text x="202.6" y="381.7" lengthAdjust="spacingAndGlyphs" textLength="30.8">Subtopic</text></g>
<g id="lN2a"><path d="M172 377.7H198"/><text x="172.6" y="377.1" lengthAdjust="spacingAndGlyphs" textLength="24.8">Subtopic</text></g>
<g id="lN2b"><path d="M172 382.3H198"/><text x="172.6" y="381.7" lengthAdjust="spacingAndGlyphs" textLength="24.8">Subtopic</text></g>
<g id="lN2c"><path d="M177 387.3H198"/><text x="177.6" y="386.7" lengthAdjust="spacingAndGlyphs" textLength="19.8">Subtopic</text></g>
<g id="lN3"><path d="M202 400H234"/><text x="202.6" y="399.4" lengthAdjust="spacingAndGlyphs" textLength="30.8">Subtopic</text></g>
<g id="lN3a"><path d="M178 394H197"/><text x="178.6" y="393.4" lengthAdjust="spacingAndGlyphs" textLength="17.8">Subtopic</text></g>
<g id="lN3a1"><path d="M162 391H175"/><text x="162.6" y="390.4" lengthAdjust="spacingAndGlyphs" textLength="11.8">Topic</text></g>
<g id="lN3a2"><path d="M163 393.9H175"/><text x="163.6" y="393.3" lengthAdjust="spacingAndGlyphs" textLength="10.8">Topic</text></g>
<g id="lN3a3"><path d="M160 396.7H175"/><text x="160.6" y="396.1" lengthAdjust="spacingAndGlyphs" textLength="13.8">Topic</text></g>
<g id="lN3b"><path d="M175 402.3H197"/><text x="175.6" y="401.7" lengthAdjust="spacingAndGlyphs" textLength="20.8">Subtopic</text></g>
<g id="lN3b1"><path d="M158 400H173"/><text x="158.6" y="399.4" lengthAdjust="spacingAndGlyphs" textLength="13.8">Topic</text></g>
<g id="lN3b2"><path d="M160 405H173"/><text x="160.6" y="404.4" lengthAdjust="spacingAndGlyphs" textLength="11.8">Topic</text></g>
<g id="lN3c"><path d="M173 409H197"/><text x="173.6" y="408.4" lengthAdjust="spacingAndGlyphs" textLength="22.8">Subtopic</text></g>
<g id="lP"><path d="M260 421H283"/><text x="260.6" y="420.4" lengthAdjust="spacingAndGlyphs" textLength="21.8">Subtopic</text></g>
<g id="lP1"><path d="M245 414H258"/><text x="245.6" y="413.4" lengthAdjust="spacingAndGlyphs" textLength="11.8">Topic</text></g>
<g id="lP2"><path d="M243 416.7H258"/><text x="243.6" y="416.1" lengthAdjust="spacingAndGlyphs" textLength="13.8">Topic</text></g>
<g id="lP3"><path d="M245 419.5H258"/><text x="245.6" y="418.9" lengthAdjust="spacingAndGlyphs" textLength="11.8">Topic</text></g>
<g id="lP4"><path d="M243 422.2H258"/><text x="243.6" y="421.6" lengthAdjust="spacingAndGlyphs" textLength="13.8">Topic</text></g>
<g id="lP5"><path d="M243 425H258"/><text x="243.6" y="424.4" lengthAdjust="spacingAndGlyphs" textLength="13.8">Topic</text></g>
<g id="lP6"><path d="M246 427.7H258"/><text x="246.6" y="427.1" lengthAdjust="spacingAndGlyphs" textLength="10.8">Topic</text></g>
<g id="lQ"><path d="M257 446.7H272"/><text x="257.6" y="446.1" lengthAdjust="spacingAndGlyphs" textLength="13.8">Topic</text></g>
<g id="lQ1"><path d="M222 431.7H255"/><text x="222.6" y="431.1" lengthAdjust="spacingAndGlyphs" textLength="31.8">Subtopic</text></g>
<g id="lQ2"><path d="M219 436H255"/><text x="219.6" y="435.4" lengthAdjust="spacingAndGlyphs" textLength="34.8">Subtopic</text></g>
<g id="lQ3"><path d="M217 440.7H255"/><text x="217.6" y="440.1" lengthAdjust="spacingAndGlyphs" textLength="36.8">Subtopic</text></g>
<g id="lQ4"><path d="M228 454H255"/><text x="228.6" y="453.4" lengthAdjust="spacingAndGlyphs" textLength="25.8">Subtopic</text></g>
<g id="lQ4a"><path d="M195 445H226"/><text x="195.6" y="444.4" lengthAdjust="spacingAndGlyphs" textLength="29.8">Subtopic</text></g>
<g id="lQ4b"><path d="M193 448.5H226"/><text x="193.6" y="447.9" lengthAdjust="spacingAndGlyphs" textLength="31.8">Subtopic</text></g>
<g id="lQ4c"><path d="M190 451.5H226"/><text x="190.6" y="450.9" lengthAdjust="spacingAndGlyphs" textLength="34.8">Subtopic</text></g>
<g id="lQ4d"><path d="M197 454.8H226"/><text x="197.6" y="454.2" lengthAdjust="spacingAndGlyphs" textLength="27.8">Subtopic</text></g>
<g id="lQ4e"><path d="M197 458.5H226"/><text x="197.6" y="457.9" lengthAdjust="spacingAndGlyphs" textLength="27.8">Subtopic</text></g>
<g id="lQ4f"><path d="M192 462.3H226"/><text x="192.6" y="461.7" lengthAdjust="spacingAndGlyphs" textLength="32.8">Subtopic</text></g>
<g id="lR"><path d="M247 470H275"/><text x="247.6" y="469.4" lengthAdjust="spacingAndGlyphs" textLength="26.8">Subtopic</text></g>
<g id="lR1"><path d="M225 470H247"/><text x="225.6" y="469.4" lengthAdjust="spacingAndGlyphs" textLength="19.8">Subtopic</text></g>
<g id="lR2"><path d="M200 470H225"/><text x="200.6" y="469.4" lengthAdjust="spacingAndGlyphs" textLength="22.8">Subtopic</text></g>
<g id="lR3"><path d="M183 470H200"/><text x="183.6" y="469.4" lengthAdjust="spacingAndGlyphs" textLength="14.8">Subtopic</text></g>
<g id="lR3a"><path d="M160 466.5H181"/><text x="160.6" y="465.9" lengthAdjust="spacingAndGlyphs" textLength="19.8">Subtopic</text></g>
<g id="lR3b"><path d="M165 469H181"/><text x="165.6" y="468.4" lengthAdjust="spacingAndGlyphs" textLength="14.8">Subtopic</text></g>
<g id="lR3c"><path d="M152 471.7H181"/><text x="152.6" y="471.1" lengthAdjust="spacingAndGlyphs" textLength="27.8">Subtopic</text></g>
<g id="lS"><path d="M258 483.3H277"/><text x="258.6" y="482.7" lengthAdjust="spacingAndGlyphs" textLength="17.8">Subtopic</text></g>
<g id="lS1"><path d="M232 480.7H256"/><text x="232.6" y="480.1" lengthAdjust="spacingAndGlyphs" textLength="22.8">Subtopic</text></g>
<g id="lS1a"><path d="M210 475H228"/><text x="210.6" y="474.4" lengthAdjust="spacingAndGlyphs" textLength="16.8">Subtopic</text></g>
<g id="lS1b"><path d="M210 478.8H228"/><text x="210.6" y="478.2" lengthAdjust="spacingAndGlyphs" textLength="16.8">Subtopic</text></g>
<g id="lS1c"><path d="M195 484H228"/><text x="195.6" y="483.4" lengthAdjust="spacingAndGlyphs" textLength="31.8">Subtopic</text></g>
<g id="lS2"><path d="M230 491.7H256"/><text x="230.6" y="491.1" lengthAdjust="spacingAndGlyphs" textLength="24.8">Subtopic</text></g>
<g id="lS2a"><path d="M200 488.3H227"/><text x="200.6" y="487.7" lengthAdjust="spacingAndGlyphs" textLength="25.8">Subtopic</text></g>
<g id="lS2b"><path d="M203 493.3H227"/><text x="203.6" y="492.7" lengthAdjust="spacingAndGlyphs" textLength="22.8">Subtopic</text></g>
<g id="lT"><path d="M253 510H273"/><text x="253.6" y="509.4" lengthAdjust="spacingAndGlyphs" textLength="18.8">Subtopic</text></g>
<g id="lT1"><path d="M230 497.7H251"/><text x="230.6" y="497.1" lengthAdjust="spacingAndGlyphs" textLength="19.8">Subtopic</text></g>
<g id="lT2"><path d="M222 502H251"/><text x="222.6" y="501.4" lengthAdjust="spacingAndGlyphs" textLength="27.8">Subtopic</text></g>
<g id="lT3"><path d="M223 506.3H251"/><text x="223.6" y="505.7" lengthAdjust="spacingAndGlyphs" textLength="26.8">Subtopic</text></g>
<g id="lT4"><path d="M223 510.6H251"/><text x="223.6" y="510" lengthAdjust="spacingAndGlyphs" textLength="26.8">Subtopic</text></g>
<g id="lT5"><path d="M223 515H251"/><text x="223.6" y="514.4" lengthAdjust="spacingAndGlyphs" textLength="26.8">Subtopic</text></g>
<g id="lT6"><path d="M225 519.3H251"/><text x="225.6" y="518.7" lengthAdjust="spacingAndGlyphs" textLength="24.8">Subtopic</text></g>
</g>
</svg>
